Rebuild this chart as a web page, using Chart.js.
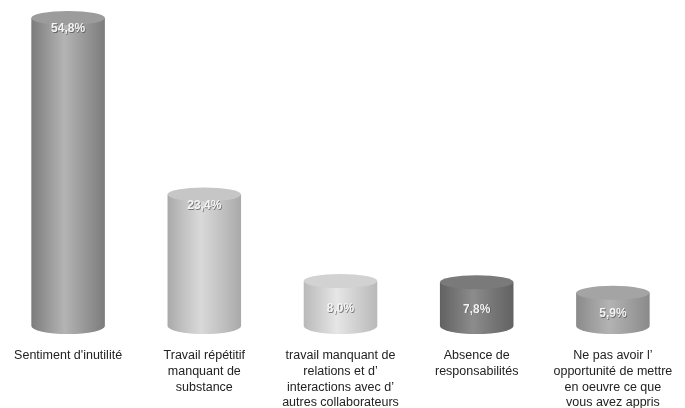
<!DOCTYPE html>
<html>
<head>
<meta charset="utf-8">
<script src="https://cdn.jsdelivr.net/npm/chart.js@4/dist/chart.umd.min.js"></script>
<style>
  html, body { margin: 0; padding: 0; background: #fff; }
  #wrap { width: 685px; height: 408px; }
</style>
</head>
<body>
<div id="wrap"><canvas id="chart"></canvas></div>
<script>
// --- Données ---
const CATEGORIES = [
    ["Sentiment d'inutilité"],
    ["Travail répétitif", "manquant de", "substance"],
    ["travail manquant de", "relations et d’", "interactions avec d’", "autres collaborateurs"],
    ["Absence de", "responsabilités"],
    ["Ne pas avoir l’", "opportunité de mettre", "en oeuvre ce que", "vous avez appris"]
];
const VALUES = [54.8, 23.4, 8.0, 7.8, 5.9];
const VALUE_LABELS = ["54,8%", "23,4%", "8,0%", "7,8%", "5,9%"];

// teintes des cylindres : [bord, milieu, reflet, dessus]
const SHADES = [
    ['#7c7c7c', '#959595', '#b4b4b4', '#9c9c9c'],
    ['#a9a9a9', '#c0c0c0', '#d9d9d9', '#c6c6c6'],
    ['#b9b9b9', '#cdcdcd', '#e6e6e6', '#d2d2d2'],
    ['#626262', '#747474', '#8c8c8c', '#7a7a7a'],
    ['#8a8a8a', '#9d9d9d', '#b3b3b3', '#a4a4a4'],
];

const FONT = "'Liberation Sans', Arial, sans-serif";

// Cylindres dessinés à la place des barres
const cylinderPlugin = {
    id: 'cylinder',
    afterDatasetsDraw(chart) {
        const { ctx } = chart;
        const meta = chart.getDatasetMeta(0);
        meta.data.forEach((bar, i) => {
            const [edge, mid, light, top] = SHADES[i];
            const w = bar.width;
            const left = bar.x - w / 2;
            const ry = 7;
            const yTop = bar.y;
            const yBase = bar.base;

            ctx.save();
            const grad = ctx.createLinearGradient(left, 0, left + w, 0);
            grad.addColorStop(0, edge);
            grad.addColorStop(0.2, mid);
            grad.addColorStop(0.45, light);
            grad.addColorStop(0.75, mid);
            grad.addColorStop(1, edge);
            ctx.fillStyle = grad;

            // corps + fond arrondi
            ctx.beginPath();
            ctx.moveTo(left, yTop);
            ctx.lineTo(left, yBase);
            ctx.ellipse(bar.x, yBase, w / 2, ry + 1, 0, Math.PI, 0, true);
            ctx.lineTo(left + w, yTop);
            ctx.closePath();
            ctx.fill();

            // dessus
            ctx.beginPath();
            ctx.ellipse(bar.x, yTop, w / 2, ry, 0, 0, Math.PI * 2);
            ctx.fillStyle = top;
            ctx.fill();
            ctx.restore();

            // valeur
            const h = yBase - yTop;
            const ly = h < 60 ? yTop + h * 0.62 : yTop + 11;
            ctx.save();
            ctx.font = `bold 12px ${FONT}`;
            ctx.textAlign = 'center';
            ctx.textBaseline = 'middle';
            ctx.fillStyle = 'rgba(60,60,60,0.6)';
            ctx.fillText(VALUE_LABELS[i], bar.x + 0.8, ly + 0.8);
            ctx.fillStyle = '#f4f4f4';
            ctx.fillText(VALUE_LABELS[i], bar.x, ly);
            ctx.restore();
        });
    }
};

new Chart(document.getElementById('chart').getContext('2d'), {
    type: 'bar',
    plugins: [cylinderPlugin],
    data: {
        labels: CATEGORIES,
        datasets: [{
            data: VALUES,
            backgroundColor: 'rgba(0,0,0,0)',
            borderWidth: 0,
            barPercentage: 0.54,
            categoryPercentage: 1,
        }]
    },
    options: {
        responsive: true,
        maintainAspectRatio: false,
        animation: false,
        layout: { padding: { left: -4, right: 4, top: 0, bottom: 0 } },
        scales: {
            x: {
                grid: { display: false },
                border: { display: false },
                afterFit(scale) {
                    scale.height = 82;
                    scale.paddingLeft = 0;
                    scale.paddingRight = 0;
                },
                ticks: {
                    color: '#222',
                    padding: 14,
                    maxRotation: 0,
                    autoSkip: false,
                    font: { family: FONT, size: 12.5, lineHeight: 1.25 },
                }
            },
            y: {
                display: false,
                min: 0,
                max: 58,
            }
        },
        plugins: {
            legend: { display: false },
            tooltip: { enabled: false }
        }
    }
});
</script>
</body>
</html>
